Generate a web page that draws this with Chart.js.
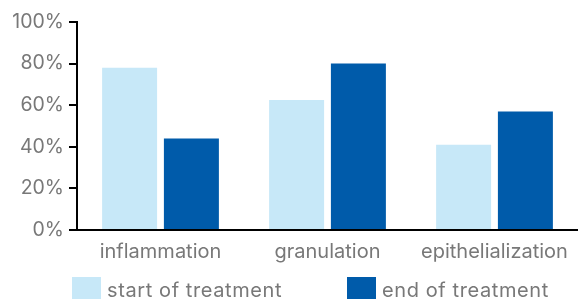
<!DOCTYPE html>
<html><head>
<meta charset="utf-8">
<style>html,body{margin:0;padding:0;background:#fff}canvas{display:block}</style>
<script src="https://cdn.jsdelivr.net/npm/chart.js@4"></script>
</head><body>
<canvas id="c" width="578" height="299"></canvas>
<script>
const categories = ['inflammation', 'granulation', 'epithelialization'];
const seriesNames = ['start of treatment', 'end of treatment'];
const startValues = [78, 62.5, 41];
const endValues = [44, 80, 57];
const yTickValues = [0, 20, 40, 60, 80, 100];
const seriesColors = ['#C7E8F8', '#005BAA'];

const FONT = 'Inter, "Noto Sans", sans-serif';
const TEXT = '#787878';

const canvas = document.getElementById('c');
canvas.getContext('2d').letterSpacing = '0.6px';

const legendPlugin = {
  id: 'bottomLegend',
  afterDraw(chart) {
    const ctx = chart.ctx;
    const pos = [72, 347];
    ctx.save();
    ctx.letterSpacing = '0.6px';
    ctx.font = '20px ' + FONT;
    ctx.textBaseline = 'alphabetic';
    ctx.textAlign = 'left';
    chart.data.datasets.forEach((ds, i) => {
      ctx.fillStyle = ds.backgroundColor;
      ctx.fillRect(pos[i], 277, 29, 22);
      ctx.fillStyle = TEXT;
      ctx.fillText(ds.label, pos[i] + 35, 297);
    });
    ctx.restore();
  }
};

new Chart(canvas, {
  type: 'bar',
  data: {
    labels: categories,
    datasets: [
      { label: seriesNames[0], data: startValues, backgroundColor: seriesColors[0] },
      { label: seriesNames[1], data: endValues, backgroundColor: seriesColors[1] }
    ]
  },
  options: {
    responsive: false,
    animation: false,
    devicePixelRatio: 1,
    categoryPercentage: 0.74,
    barPercentage: 0.89,
    layout: { padding: { top: 22, right: 0, bottom: 29, left: 0 } },
    plugins: { legend: { display: false }, tooltip: { enabled: false } },
    scales: {
      x: {
        grid: { display: false, drawTicks: false },
        border: { display: true, color: '#000', width: 2 },
        ticks: { color: TEXT, font: { family: FONT, size: 20 }, padding: 10, maxRotation: 0, autoSkip: false },
        afterFit(s) { s.height = 40; }
      },
      y: {
        min: 0, max: 100,
        afterBuildTicks(s) { s.ticks = yTickValues.map(v => ({ value: v })); },
        grid: { drawOnChartArea: false, drawTicks: true, tickLength: 8, color: '#000', lineWidth: 2 },
        border: { display: true, color: '#000', width: 2 },
        ticks: { color: TEXT, font: { family: FONT, size: 19.5 }, padding: 5, callback: v => v + '%' },
        afterFit(s) { s.width = 77; }
      }
    }
  },
  plugins: [legendPlugin]
});
</script>
</body></html>
